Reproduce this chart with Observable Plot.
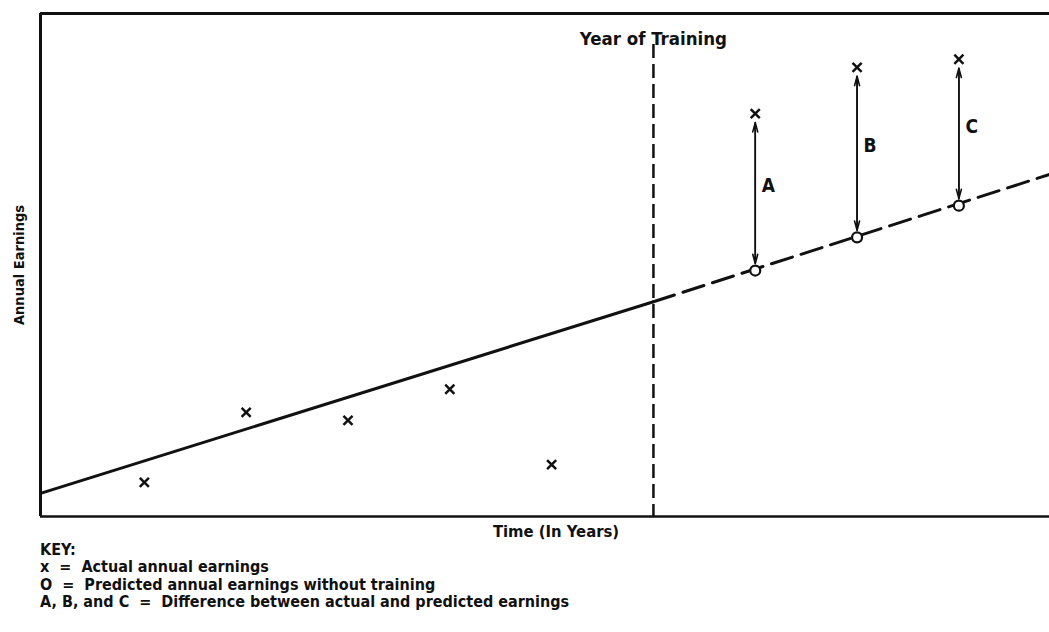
<!DOCTYPE html>
<html>
<head>
<meta charset="utf-8">
<script src="https://cdn.jsdelivr.net/npm/d3@7"></script>
<script src="https://cdn.jsdelivr.net/npm/@observablehq/plot@0.6"></script>
<style>
  html, body { margin: 0; padding: 0; background: #fff; }
  body { width: 1049px; height: 632px; overflow: hidden; font-family: "Liberation Sans Narrow", "DejaVu Sans Condensed", "Liberation Sans", sans-serif; font-weight: bold; color: #111; }
  #chart svg { display: block; }
  #key { margin-left: 40px; font-size: 16px; line-height: 17.4px; margin-top: 0px; }
  #key div { white-space: pre; }
</style>
</head>
<body>
<div id="chart"></div>
<div id="key">
  <div>KEY:</div>
  <div>x  =  Actual annual earnings</div>
  <div>O  =  Predicted annual earnings without training</div>
  <div>A, B, and C  =  Difference between actual and predicted earnings</div>
</div>
<script>
// ---- data ----
const xDomain = [-0.02, 9.89];
const yDomain = [0, 100];
const yearsBefore = [1, 2, 3, 4, 5];
const actualBefore = [6.8, 20.7, 19.1, 25.3, 10.3];
const trainingYear = 6;
const yearsAfter = [7, 8, 9];
const actualAfter = [80.1, 89.3, 90.9];
const predictedAfter = [48.9, 55.5, 61.8];
const diffLabels = ["A", "B", "C"];
const trendYears = [-0.02, 6];
const trendValues = [4.6, 42.7];
const projYears = [6, 9.89];
const projValues = [42.7, 68.0];

const before = yearsBefore.map((x, i) => ({x, y: actualBefore[i]}));
const after = yearsAfter.map((x, i) => ({x, actual: actualAfter[i], predicted: predictedAfter[i], label: diffLabels[i]}));
const trend = trendYears.map((x, i) => ({x, y: trendValues[i]}));
const proj = projYears.map((x, i) => ({x, y: projValues[i]}));

const font = '"Liberation Sans Narrow", "DejaVu Sans Condensed", "Liberation Sans", sans-serif';

const chart = Plot.plot({
  width: 1049,
  height: 541,
  marginLeft: 40,
  marginRight: 0,
  marginTop: 13,
  marginBottom: 25,
  x: {domain: xDomain, axis: null},
  y: {domain: yDomain, axis: null},
  style: {fontFamily: font, fontWeight: "bold", background: "white", color: "#111", overflow: "visible"},
  marks: [
    // frame: bottom, top, left
    Plot.ruleY([yDomain[0]], {stroke: "#111", strokeWidth: 2.5}),
    Plot.ruleY([yDomain[1]], {stroke: "#111", strokeWidth: 3}),
    Plot.ruleX([xDomain[0]], {stroke: "#111", strokeWidth: 3}),
    // year of training
    Plot.ruleX([trainingYear], {stroke: "#111", strokeWidth: 2.5, strokeDasharray: "14,6", insetTop: 31}),
    Plot.text([trainingYear], {x: d => d, frameAnchor: "top", text: () => "Year of Training", dy: 18, fontSize: 18.5, fontWeight: "bold", fill: "#111"}),
    // trend lines
    Plot.line(trend, {x: "x", y: "y", stroke: "#111", strokeWidth: 3}),
    Plot.line(proj, {x: "x", y: "y", stroke: "#111", strokeWidth: 3, strokeDasharray: "22,9"}),
    // difference arrows (double-headed)
    Plot.arrow(after, {x1: "x", y1: "actual", x2: "x", y2: "predicted", stroke: "#111", strokeWidth: 1.6, headAngle: 30, headLength: 9, insetStart: 9, insetEnd: 7}),
    Plot.arrow(after, {x1: "x", y1: "predicted", x2: "x", y2: "actual", stroke: "#111", strokeWidth: 1.6, headAngle: 30, headLength: 9, insetStart: 7, insetEnd: 9}),
    Plot.text(after, {x: "x", y: d => (d.actual + d.predicted) / 2, text: "label", dx: 13, dy: -6, fontSize: 19, fontWeight: "bold", fill: "#111"}),
    // actual earnings
    Plot.dot(before, {x: "x", y: "y", symbol: "times", r: 4.2, stroke: "#111", strokeWidth: 2.5}),
    Plot.dot(after, {x: "x", y: "actual", symbol: "times", r: 4.2, stroke: "#111", strokeWidth: 2.5}),
    // predicted earnings
    Plot.dot(after, {x: "x", y: "predicted", r: 5, stroke: "#111", strokeWidth: 2.2, fill: "white"}),
    // axis labels
    Plot.text(["Annual Earnings"], {frameAnchor: "left", text: d => d, rotate: -90, textAnchor: "middle", dx: -21, fontSize: 14.5, fontWeight: "bold", fill: "#111"}),
    Plot.text(["Time (In Years)"], {frameAnchor: "bottom", text: d => d, dx: 11, dy: 20, fontSize: 16.5, fontWeight: "bold", fill: "#111"})
  ]
});
document.getElementById("chart").appendChild(chart);
</script>
</body>
</html>
